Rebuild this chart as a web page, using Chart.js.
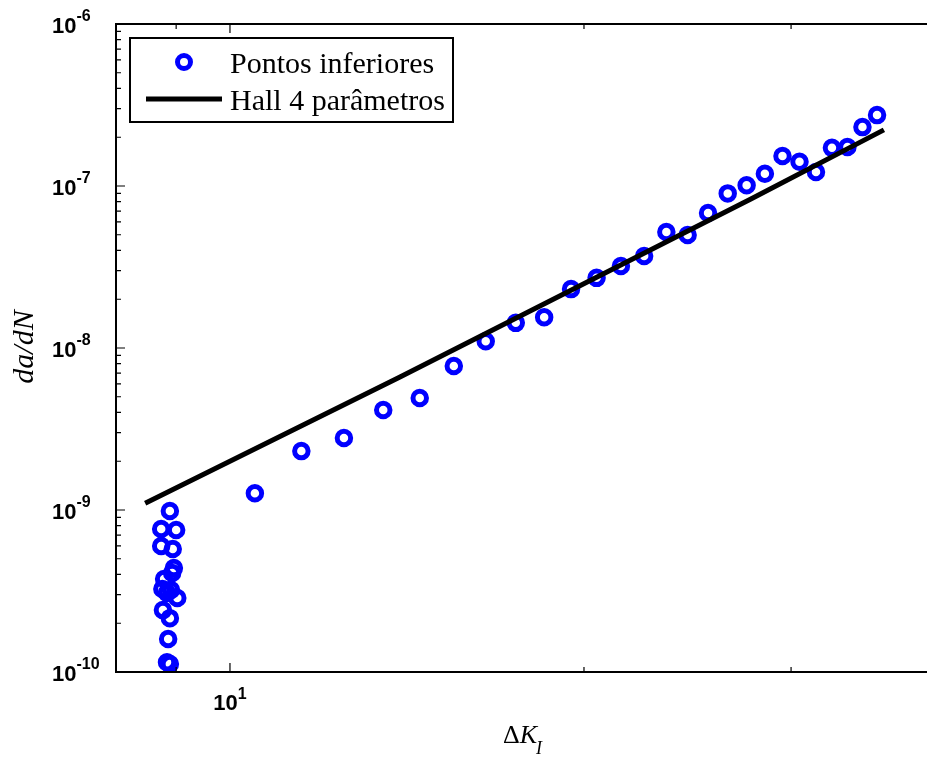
<!DOCTYPE html>
<html>
<head>
<meta charset="utf-8">
<title>da/dN x ΔK</title>
<script src="https://cdn.jsdelivr.net/npm/chart.js@4.4.1/dist/chart.umd.min.js"></script>
<style>
    html, body { margin: 0; padding: 0; background: #fff; overflow: hidden; }
    #wrap { width: 960px; height: 757px; }
</style>
</head>
<body>
<div id="wrap"><canvas id="crackChart" width="960" height="757"></canvas></div>
<script>
// Pontos inferiores (ΔK, da/dN)
const pointsDeltaK = [
    8.89, 8.74, 9.00, 8.74, 8.94, 8.96, 8.93, 8.79, 8.76, 8.91, 8.84, 9.02, 8.77, 8.89, 8.86, 8.84, 8.89,
    10.5, 11.5, 12.5, 13.5, 14.5, 15.5, 16.5, 17.5, 18.5, 19.5, 20.5, 21.5, 22.5,
    23.5, 24.5, 25.5, 26.5, 27.5, 28.5, 29.5, 30.5, 31.5, 32.5, 33.5, 34.5, 35.5
];
const pointsRate = [
    9.86e-10, 7.63e-10, 7.53e-10, 6.0e-10, 5.74e-10, 4.38e-10, 4.08e-10, 3.75e-10, 3.25e-10,
    3.21e-10, 3.08e-10, 2.86e-10, 2.41e-10, 2.15e-10, 1.60e-10, 1.15e-10, 1.12e-10,
    1.27e-9, 2.31e-9, 2.78e-9, 4.14e-9, 4.91e-9, 7.74e-9, 1.10e-8, 1.43e-8, 1.55e-8,
    2.31e-8, 2.71e-8, 3.21e-8, 3.70e-8, 5.20e-8, 4.98e-8, 6.81e-8, 9.0e-8, 1.01e-7,
    1.19e-7, 1.53e-7, 1.41e-7, 1.22e-7, 1.72e-7, 1.74e-7, 2.31e-7, 2.74e-7
];

// Hall 4 parametros curve
const hallDeltaK = [8.47, 13.95, 27.73, 35.98];
const hallRate = [1.10e-9, 6.62e-9, 8.31e-8, 2.22e-7];

const seriesLabels = ['Pontos inferiores', 'Hall 4 parâmetros'];

const xRange = [8, 40];
const yRange = [1e-10, 1e-6];
const xMajorTicks = [10];
const xMinorTicks = [8, 9, 20, 30, 40];
const yMajorTicks = [1e-10, 1e-9, 1e-8, 1e-7, 1e-6];
const yMinorSteps = [2, 3, 4, 5, 6, 7, 8, 9];
const xTickLabels = ['1'];                       // exponents of 10
const yTickLabels = ['-10', '-9', '-8', '-7', '-6'];

const BLUE = '#0000ff';
const SANS = '"Liberation Sans", Arial, sans-serif';
const SERIF = '"Liberation Serif", "Times New Roman", serif';
const BASE_FONT = 'bold 22px ' + SANS;
const EXP_FONT = 'bold 16px ' + SANS;

// draws a MATLAB style box with inward ticks, tick labels, axis titles and legend
const matlabAxes = {
    id: 'matlabAxes',
    afterDatasetsDraw(chart) {
        const { ctx, chartArea: a, scales } = chart;
        const xs = scales.x, ys = scales.y;
        ctx.save();

        // ticks
        ctx.strokeStyle = '#000';
        ctx.lineWidth = 1.2;
        const vTick = (px, len) => {
            ctx.beginPath();
            ctx.moveTo(px, a.bottom); ctx.lineTo(px, a.bottom - len);
            ctx.moveTo(px, a.top); ctx.lineTo(px, a.top + len);
            ctx.stroke();
        };
        const hTick = (py, len) => {
            ctx.beginPath();
            ctx.moveTo(a.left, py); ctx.lineTo(a.left + len, py);
            ctx.moveTo(a.right, py); ctx.lineTo(a.right - len, py);
            ctx.stroke();
        };
        xMajorTicks.forEach(v => vTick(xs.getPixelForValue(v), 9));
        xMinorTicks.forEach(v => vTick(xs.getPixelForValue(v), 5));
        yMajorTicks.forEach((v, i) => {
            hTick(ys.getPixelForValue(v), 9);
            if (i < yMajorTicks.length - 1) {
                yMinorSteps.forEach(m => hTick(ys.getPixelForValue(v * m), 5));
            }
        });

        // box
        ctx.lineWidth = 2;
        ctx.strokeRect(a.left, a.top, a.right - a.left, a.bottom - a.top);

        // tick labels
        ctx.fillStyle = '#000';
        ctx.textBaseline = 'alphabetic';
        ctx.textAlign = 'left';
        yMajorTicks.forEach((v, i) => {
            const py = ys.getPixelForValue(v);
            ctx.font = BASE_FONT;
            ctx.fillText('10', 52, py + 9);
            const w = ctx.measureText('10').width;
            ctx.font = EXP_FONT;
            ctx.fillText(yTickLabels[i], 52 + w, py - 3);
        });
        xMajorTicks.forEach((v, i) => {
            const px = xs.getPixelForValue(v);
            ctx.font = BASE_FONT;
            const w = ctx.measureText('10').width;
            ctx.font = EXP_FONT;
            const ws = ctx.measureText(xTickLabels[i]).width;
            const x0 = px - (w + ws) / 2;
            ctx.font = BASE_FONT;
            ctx.fillText('10', x0, a.bottom + 38);
            ctx.font = EXP_FONT;
            ctx.fillText(xTickLabels[i], x0 + w, a.bottom + 27);
        });

        // axis titles
        ctx.save();
        ctx.translate(33, 347);
        ctx.rotate(-Math.PI / 2);
        ctx.textAlign = 'center';
        ctx.font = 'italic 30px ' + SERIF;
        ctx.fillText('da/dN', 0, 0);
        ctx.restore();

        ctx.font = '26px ' + SERIF;
        ctx.fillText('Δ', 503, 743);
        let x = 503 + ctx.measureText('Δ').width;
        ctx.font = 'italic 26px ' + SERIF;
        ctx.fillText('K', x, 743);
        x += ctx.measureText('K').width;
        ctx.font = 'italic 18px ' + SERIF;
        ctx.fillText('I', x - 1, 754);

        // legend
        const ds = chart.data.datasets;
        ctx.fillStyle = '#fff';
        ctx.fillRect(130, 38, 323, 84);
        ctx.lineWidth = 2;
        ctx.strokeStyle = '#000';
        ctx.strokeRect(130, 38, 323, 84);

        ctx.beginPath();
        ctx.arc(184, 62, 6.5, 0, Math.PI * 2);
        ctx.lineWidth = 5;
        ctx.strokeStyle = BLUE;
        ctx.stroke();

        ctx.beginPath();
        ctx.moveTo(146, 99); ctx.lineTo(222, 99);
        ctx.lineWidth = 5;
        ctx.strokeStyle = '#000';
        ctx.stroke();

        ctx.fillStyle = '#000';
        ctx.font = '30px ' + SERIF;
        ctx.fillText(ds[1].label, 230, 73);
        ctx.fillText(ds[0].label, 230, 110);

        ctx.restore();
    }
};

new Chart(document.getElementById('crackChart'), {
    type: 'scatter',
    data: {
        datasets: [{
            label: seriesLabels[1],
            data: hallDeltaK.map((k, i) => ({ x: k, y: hallRate[i] })),
            showLine: true,
            borderColor: '#000',
            borderWidth: 5,
            pointRadius: 0,
            order: 0
        }, {
            label: seriesLabels[0],
            data: pointsDeltaK.map((k, i) => ({ x: k, y: pointsRate[i] })),
            pointRadius: 6.75,
            pointBorderWidth: 5,
            pointBackgroundColor: 'rgba(0,0,0,0)',
            pointBorderColor: BLUE,
            order: 1
        }]
    },
    options: {
        responsive: false,
        animation: false,
        layout: { padding: { left: 116, top: 24, right: 22, bottom: 85 } },
        plugins: {
            legend: { display: false },
            tooltip: { enabled: false }
        },
        scales: {
            x: { type: 'logarithmic', min: xRange[0], max: xRange[1], display: false },
            y: { type: 'logarithmic', min: yRange[0], max: yRange[1], display: false }
        }
    },
    plugins: [matlabAxes]
});
</script>
</body>
</html>
